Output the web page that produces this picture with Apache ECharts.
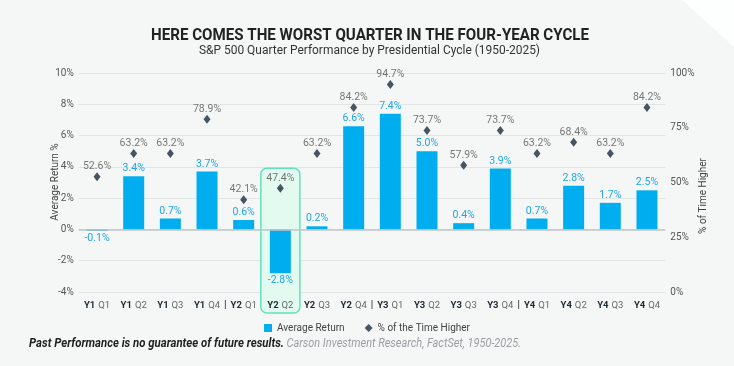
<!DOCTYPE html>
<html>
<head>
<meta charset="utf-8">
<script src="https://cdn.jsdelivr.net/npm/echarts@6/dist/echarts.min.js"></script>
<style>
html,body{margin:0;padding:0;background:#f5f7f7;}
#chart{width:734px;height:366px;}
</style>
</head>
<body>
<div id="chart"></div>
<script>
const titleText = 'HERE COMES THE WORST QUARTER IN THE FOUR-YEAR CYCLE';
const subtitleText = 'S&P 500 Quarter Performance by Presidential Cycle (1950-2025)';
const footBold = 'Past Performance is no guarantee of future results.';
const footSource = 'Carson Investment Research, FactSet, 1950-2025.';
const years = ['Y1','Y1','Y1','Y1','Y2','Y2','Y2','Y2','Y3','Y3','Y3','Y3','Y4','Y4','Y4','Y4'];
const quarters = ['Q1','Q2','Q3','Q4','Q1','Q2','Q3','Q4','Q1','Q2','Q3','Q4','Q1','Q2','Q3','Q4'];
const categories = years.map((y, i) => y + ' ' + quarters[i]);
const avgReturn = [-0.1, 3.4, 0.7, 3.7, 0.6, -2.8, 0.2, 6.6, 7.4, 5.0, 0.4, 3.9, 0.7, 2.8, 1.7, 2.5];
const pctHigher = [52.6, 63.2, 63.2, 78.9, 42.1, 47.4, 63.2, 84.2, 94.7, 73.7, 57.9, 73.7, 63.2, 68.4, 63.2, 84.2];
const leftAxis = {min: -4, max: 10, interval: 2};
const rightAxis = {min: 0, max: 100, interval: 25};
const highlightCategory = 'Y2 Q2';
const separatorsAfter = [3, 7, 11];

const chart = echarts.init(document.getElementById('chart'), null, {renderer: 'canvas'});
const baseFont = 'Roboto, "Noto Sans", sans-serif';

function measure(text, font) {
  const c = document.createElement('canvas').getContext('2d');
  c.font = font;
  return c.measureText(text).width;
}

const option = {
  backgroundColor: '#f5f7f7',
  animation: false,
  textStyle: {fontFamily: baseFont},
  grid: {left: 78.7, right: 68.7, top: 73, bottom: 74},
  legend: {
    top: 318, left: 'center', itemWidth: 8, itemHeight: 8, itemGap: 20,
    textStyle: {fontSize: 10, color: '#444', fontFamily: baseFont},
    data: [
      {name: 'Average Return', icon: 'rect'},
      {name: '% of the Time Higher', icon: 'diamond'}
    ]
  },
  xAxis: {
    type: 'category', data: categories, z: 5,
    axisLine: {show: false}, axisTick: {show: false},
    axisLabel: {
      interval: 0, margin: 8,
      formatter: (v) => { const p = v.split(' '); return '{b|' + p[0] + '} {q|' + p[1] + '}'; },
      rich: {
        b: {fontSize: 9.5, fontWeight: 'bold', color: '#1e2a35', fontFamily: baseFont},
        q: {fontSize: 9.5, color: '#666', fontFamily: baseFont}
      }
    }
  },
  yAxis: [
    {
      type: 'value', min: leftAxis.min, max: leftAxis.max, interval: leftAxis.interval,
      axisLine: {show: false}, axisTick: {show: false},
      axisLabel: {formatter: '{value}%', color: '#555', fontSize: 10, margin: 5},
      splitLine: {lineStyle: {color: '#e2e5e5', width: 1}}
    },
    {
      type: 'value', min: rightAxis.min, max: rightAxis.max, interval: rightAxis.interval,
      axisLine: {show: false}, axisTick: {show: false},
      axisLabel: {formatter: '{value}%', color: '#555', fontSize: 10, margin: 5},
      splitLine: {show: false}
    }
  ],
  series: [
    {
      name: 'Average Return', type: 'bar', yAxisIndex: 0, barWidth: 21, z: 3,
      itemStyle: {color: '#00aeef'},
      data: avgReturn.map(v => ({value: v, label: {position: v < 0 ? 'bottom' : 'top'}})),
      label: {
        show: true, distance: 2, color: '#1fa6e6', fontSize: 10.5,
        formatter: (p) => p.value.toFixed(1) + '%'
      },
      markLine: {
        silent: true, symbol: 'none', animation: false,
        label: {show: false},
        lineStyle: {color: '#bfc4c4', width: 1.5, type: 'solid'},
        data: [{yAxis: 0}]
      }
    },
    {
      name: '% of the Time Higher', type: 'scatter', yAxisIndex: 1, z: 4,
      symbol: 'diamond', symbolSize: [7, 9],
      itemStyle: {color: '#1b2b3b'},
      data: pctHigher,
      label: {
        show: true, position: 'top', distance: 0, color: '#555', fontSize: 10.5,
        formatter: (p) => p.value.toFixed(1) + '%'
      }
    }
  ]
};
chart.setOption(option);

// Decorations positioned through the library's coordinate conversion
const idx = categories.indexOf(highlightCategory);
const xc = chart.convertToPixel({xAxisIndex: 0}, idx);
const step = chart.convertToPixel({xAxisIndex: 0}, 1) - chart.convertToPixel({xAxisIndex: 0}, 0);
const yTop = chart.convertToPixel({yAxisIndex: 1}, pctHigher[idx]) - 20;
const yBottom = chart.convertToPixel({yAxisIndex: 0}, leftAxis.min) + 21;

const titleFont = 'bold 16px Roboto';
const subFont = '12px Roboto';
const footBoldFont = 'italic bold 12px Roboto';
const footSrcFont = 'italic 12px Roboto';
const tScale = 438 / measure(titleText, titleFont);
const sScale = 341 / measure(subtitleText, subFont);
const fbScale = 255 / measure(footBold, footBoldFont);
const fsScale = 234.5 / measure(footSource, footSrcFont);

const graphics = [
  {type: 'polygon', z: -10, shape: {points: [[682, 0], [734, 0], [734, 47]]}, style: {fill: '#fdfefe'}},
  {type: 'rect', z: 1, shape: {x: xc - step / 2 - 1.2, y: yTop, width: step + 2.4, height: yBottom - yTop, r: 6},
    style: {fill: '#e3faf1', stroke: '#62e2b9', lineWidth: 1.5}},
  {type: 'text', x: 370, y: 36, scaleX: tScale, style: {text: titleText, font: titleFont, fill: '#222', textAlign: 'center', textVerticalAlign: 'middle'}},
  {type: 'text', x: 369.5, y: 50.5, scaleX: sScale, style: {text: subtitleText, font: subFont, fill: '#333', textAlign: 'center', textVerticalAlign: 'middle'}},
  {type: 'text', x: 29, y: 344, scaleX: fbScale, style: {text: footBold, font: footBoldFont, fill: '#222', textAlign: 'left', textVerticalAlign: 'middle'}},
  {type: 'text', x: 286.5, y: 344, scaleX: fsScale, style: {text: footSource, font: footSrcFont, fill: '#9aa0a3', textAlign: 'left', textVerticalAlign: 'middle'}},
  {type: 'text', x: 55, y: 182, rotation: Math.PI / 2, style: {text: 'Average Return %', font: '10px Roboto', fill: '#444', textAlign: 'center', textVerticalAlign: 'middle'}},
  {type: 'text', x: 703, y: 196, rotation: Math.PI / 2, style: {text: '% of Time Higher', font: '10px Roboto', fill: '#444', textAlign: 'center', textVerticalAlign: 'middle'}}
];
separatorsAfter.forEach(i => {
  const xs = (chart.convertToPixel({xAxisIndex: 0}, i) + chart.convertToPixel({xAxisIndex: 0}, i + 1)) / 2;
  const yb = chart.convertToPixel({yAxisIndex: 0}, leftAxis.min);
  graphics.push({type: 'line', z: 5, shape: {x1: xs, y1: yb + 8, x2: xs, y2: yb + 17}, style: {stroke: '#555', lineWidth: 1}});
});
chart.setOption({graphic: graphics});
</script>
</body>
</html>
